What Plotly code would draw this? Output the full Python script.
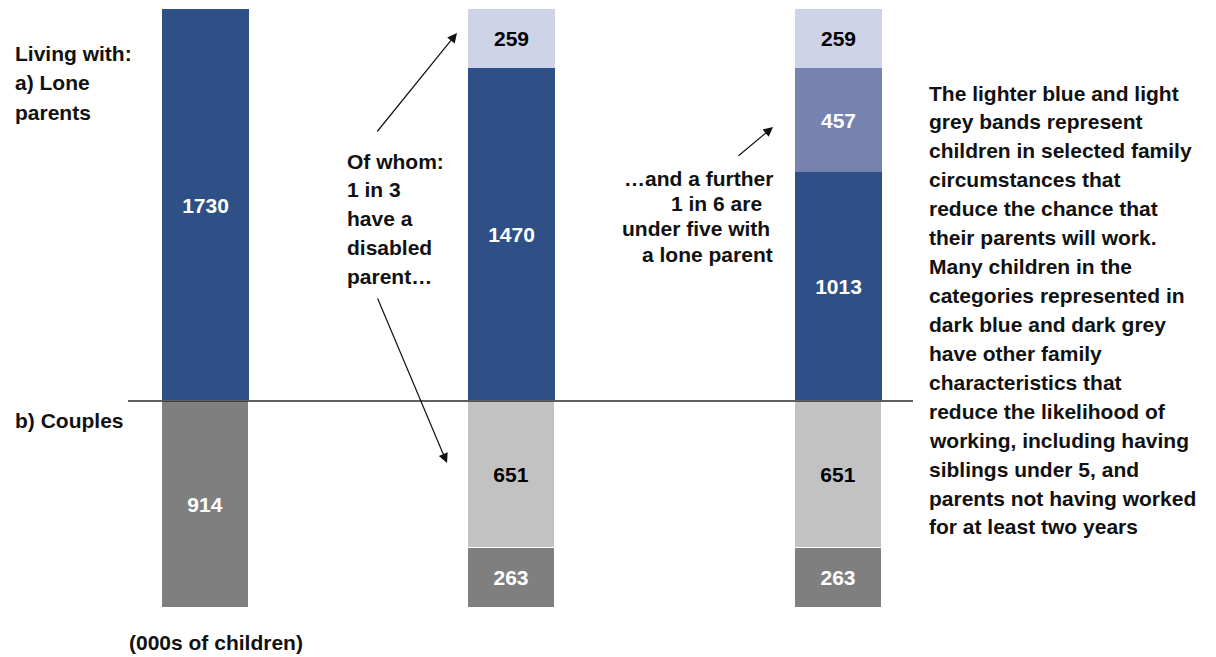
import plotly.graph_objects as go

# Children (000s) by family type; lone-parent bands stack upward, couple bands downward
lone_other = [1730, 1470, 1013]        # dark blue
lone_under_five = [None, None, 457]    # medium blue
lone_disabled = [None, 259, 259]       # light blue
couple_disabled = [None, 651, 651]     # light grey
couple_other = [914, 263, 263]         # dark grey

left_lines = ["Living with:", "a) Lone", "parents"]
couples_label = "b) Couples"
units_label = "(000s of children)"
disabled_lines = ["Of whom:", "1 in 3", "have a", "disabled", "parent…"]
under_five_lines = ["…and a further", "1 in 6 are", "under five with", "a lone parent"]
note_lines = [
    "The lighter blue and light",
    "grey bands represent",
    "children in selected family",
    "circumstances that",
    "reduce the chance that",
    "their parents will work.",
    "Many children in the",
    "categories represented in",
    "dark blue and dark grey",
    "have other family",
    "characteristics that",
    "reduce the likelihood of",
    "working, including having",
    "siblings under 5, and",
    "parents not having worked",
    "for at least two years",
]

# ---- layout constants (pixels on a 1216 x 657 canvas) ----
W, H = 1216, 657
BASE_PX = 401            # pixel row of the zero line
PX_PER_UNIT = 0.2265
bar_centres = [205.5, 511.5, 838]
BAR_W = 87
FONT = "Liberation Sans, Arial, Helvetica, sans-serif"
FS = 21

DARK_BLUE = "#2F4F87"
MID_BLUE = "#7682B0"
LIGHT_BLUE = "#CFD3E7"
LIGHT_GREY = "#C2C2C2"
DARK_GREY = "#7F7F7F"

y_top = BASE_PX / PX_PER_UNIT
y_bottom = -(H - BASE_PX) / PX_PER_UNIT


def py(px):
    """Pixel row -> paper y fraction."""
    return 1 - px / H


def labels(vals):
    return [("" if v is None else str(v)) for v in vals]


def neg(vals):
    return [None if v is None else -v for v in vals]


fig = go.Figure()


def add_band(vals, colour, text_colour, line_w=0, down=False):
    fig.add_trace(go.Bar(
        x=bar_centres,
        y=neg(vals) if down else vals,
        width=BAR_W,
        marker=dict(color=colour, line=dict(color="white", width=line_w)),
        text=labels(vals),
        textposition="inside",
        insidetextanchor="middle",
        textangle=0,
        textfont=dict(family=FONT, size=FS, color=text_colour, weight="bold"),
        constraintext="none",
        hoverinfo="skip",
        showlegend=False,
    ))


add_band(lone_other, DARK_BLUE, "white")
add_band(lone_under_five, MID_BLUE, "white")
add_band(lone_disabled, LIGHT_BLUE, "black")
add_band(couple_disabled, LIGHT_GREY, "black", line_w=1, down=True)
add_band(couple_other, DARK_GREY, "white", line_w=1, down=True)

# zero line separating lone parents and couples
fig.add_shape(type="line", xref="x", yref="y", x0=128, x1=913, y0=0, y1=0,
              line=dict(color="#2a2a2a", width=1.5), layer="above")

annotations = []


def text_line(txt, x, ypx, anchor="left"):
    annotations.append(dict(
        text=txt, x=x / W, y=py(ypx), xref="paper", yref="paper",
        xanchor=anchor, yanchor="middle", showarrow=False, borderpad=0,
        font=dict(family=FONT, size=FS, color="#111111", weight="bold"),
    ))


def block(lines, x, first_y, step, anchor="left", xs=None):
    for i, t in enumerate(lines):
        text_line(t, xs[i] if xs else x, first_y + i * step, anchor)


def arrow(head, tail):
    annotations.append(dict(
        text="", x=head[0] / W, y=py(head[1]), xref="paper", yref="paper",
        ax=tail[0] - head[0], ay=tail[1] - head[1],
        showarrow=True, arrowhead=2, arrowsize=1.6, arrowwidth=1.2,
        arrowcolor="#111111", standoff=0, startstandoff=0,
    ))


block(left_lines, 14, 53, 29.5)
text_line(couples_label, 14, 420)
text_line(units_label, 128, 642)
block(disabled_lines, 346, 161, 28.8)
block(under_five_lines, 774, 178, 25.4, anchor="right",
      xs=[774, 763, 771, 774])
block(note_lines, 928, 93, 28.93)

arrow((457, 33), (376, 133))
arrow((447, 463), (377, 297))
arrow((773, 127), (737, 157))

fig.update_layout(
    width=W, height=H,
    margin=dict(l=0, r=0, t=0, b=0),
    paper_bgcolor="white", plot_bgcolor="white",
    barmode="relative",
    bargap=0,
    xaxis=dict(range=[0, W], visible=False, fixedrange=True),
    yaxis=dict(range=[y_bottom, y_top], visible=False, fixedrange=True),
    annotations=annotations,
    uniformtext=dict(mode=False),
)

fig.write_html("out.html")
